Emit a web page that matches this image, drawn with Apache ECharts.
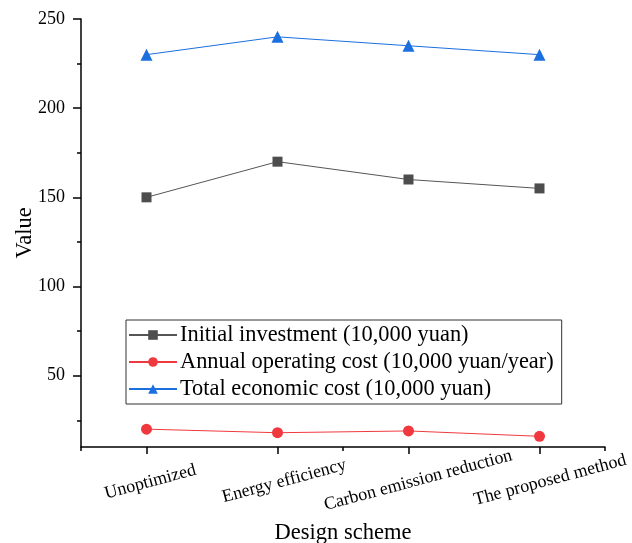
<!DOCTYPE html>
<html>
<head>
<meta charset="utf-8">
<script src="https://cdn.jsdelivr.net/npm/echarts@6/dist/echarts.min.js"></script>
<style>
  html, body { margin: 0; padding: 0; background: #fff; }
  #chart { width: 632px; height: 543px; }
</style>
</head>
<body>
<div id="chart"></div>
<script>
// Datos
const esquemas = ["Unoptimized", "Energy efficiency", "Carbon emission reduction", "The proposed method"];
const inversionInicial = [150, 170, 160, 155];
const costoAnual = [20, 18, 19, 16];
const costoTotal = [230, 240, 235, 230];
const ticksY = [50, 100, 150, 200, 250];
const ticksMenoresY = [25, 75, 125, 175, 225];

const fuente = "Liberation Serif";
const negro = "#000";

// Desplazamiento de cada etiqueta rotada (las largas van más a la derecha)
const estilosEtiqueta = {
    e0: { padding: [0, 0, 0, 8] },
    e1: { padding: [0, 0, 0, 14] },
    e2: { padding: [0, 0, 0, 20] },
    e3: { padding: [0, 0, 0, 22] }
};

let grafico = echarts.init(document.getElementById("chart"));

grafico.setOption({
    animation: false,
    textStyle: { fontFamily: fuente },
    grid: { left: 81, right: 27, top: 19, bottom: 96, containLabel: false, outerBoundsMode: "none" },
    legend: {
        orient: "vertical",
        left: 126,
        top: 320,
        padding: [3, 8, 3, 2],
        itemGap: 3,
        itemWidth: 48,
        itemHeight: 12,
        borderColor: "#333",
        borderWidth: 1,
        borderRadius: 0,
        textStyle: { fontFamily: fuente, fontSize: 22.4, color: negro, lineHeight: 24, padding: [0, 0, 0, -2] },
        data: [
            "Initial investment (10,000 yuan)",
            "Annual operating cost (10,000 yuan/year)",
            "Total economic cost (10,000 yuan)"
        ]
    },
    xAxis: [
        {
            type: "category",
            data: esquemas,
            position: "bottom",
            name: "Design scheme",
            nameLocation: "middle",
            nameGap: 75,
            nameTextStyle: { fontFamily: fuente, fontSize: 22.5, color: negro },
            axisLine: { show: true, lineStyle: { color: negro, width: 1.5 } },
            axisTick: { show: true, alignWithLabel: true, inside: false, length: 7, lineStyle: { color: negro, width: 1.5 } },
            axisLabel: {
                rotate: 15, align: "center", verticalAlign: "middle", margin: 36,
                fontFamily: fuente, fontSize: 18, color: negro,
                formatter: function (valor, i) { return "{e" + i + "|" + valor + "}"; },
                rich: {
                    e0: Object.assign({ fontFamily: fuente, fontSize: 18, color: negro }, estilosEtiqueta.e0),
                    e1: Object.assign({ fontFamily: fuente, fontSize: 18, color: negro }, estilosEtiqueta.e1),
                    e2: Object.assign({ fontFamily: fuente, fontSize: 18, color: negro }, estilosEtiqueta.e2),
                    e3: Object.assign({ fontFamily: fuente, fontSize: 18, color: negro }, estilosEtiqueta.e3)
                }
            },
            splitLine: { show: false }
        },
        {
            type: "category",
            data: esquemas,
            position: "bottom",
            axisLine: { show: false },
            axisTick: { show: true, inside: false, length: 4, lineStyle: { color: negro, width: 1.5 } },
            axisLabel: { show: false },
            splitLine: { show: false }
        }
    ],
    yAxis: [
        {
            type: "value",
            min: 10,
            max: 250,
            name: "Value",
            nameLocation: "middle",
            nameGap: 44,
            nameMoveOverlap: false,
            nameTextStyle: { fontFamily: fuente, fontSize: 22.5, color: negro },
            axisLine: { show: true, lineStyle: { color: negro, width: 1.5 } },
            axisTick: { show: true, customValues: ticksY, length: 8, lineStyle: { color: negro, width: 1.5 } },
            axisLabel: { customValues: ticksY, fontFamily: fuente, fontSize: 18, color: negro, margin: 16 },
            splitLine: { show: false }
        },
        {
            type: "value",
            min: 10,
            max: 250,
            position: "left",
            axisLine: { show: false },
            axisTick: { show: true, customValues: ticksMenoresY, length: 4, lineStyle: { color: negro, width: 1.5 } },
            axisLabel: { show: false },
            splitLine: { show: false }
        }
    ],
    series: [
        {
            name: "Initial investment (10,000 yuan)",
            type: "line",
            data: inversionInicial,
            symbol: "rect",
            symbolSize: 10,
            itemStyle: { color: "#4d4d4d" },
            lineStyle: { color: "#555", width: 1 }
        },
        {
            name: "Annual operating cost (10,000 yuan/year)",
            type: "line",
            data: costoAnual,
            symbol: "circle",
            symbolSize: 11,
            itemStyle: { color: "#f0393e" },
            lineStyle: { color: "#f0393e", width: 1 }
        },
        {
            name: "Total economic cost (10,000 yuan)",
            type: "line",
            data: costoTotal,
            symbol: "triangle",
            symbolSize: 12,
            itemStyle: { color: "#1b6fde" },
            lineStyle: { color: "#1b6fde", width: 1 }
        }
    ]
});
</script>
</body>
</html>
